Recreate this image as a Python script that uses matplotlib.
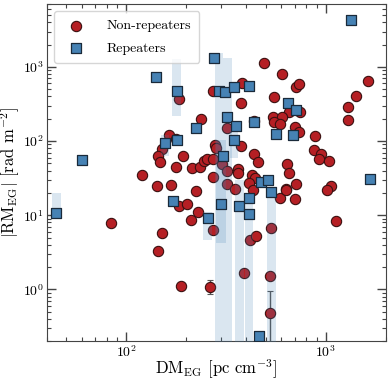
import numpy as np
import matplotlib.pyplot as plt

plt.rcParams['font.family'] = 'serif'
plt.rcParams['font.serif'] = ['cmr10', 'DejaVu Serif']
plt.rcParams['mathtext.fontset'] = 'cm'
plt.rcParams['axes.formatter.use_mathtext'] = True
plt.rcParams['axes.unicode_minus'] = False

# non-repeaters: DM_EG, |RM_EG|
nr_dm = [185, 163, 151, 144, 148, 178, 192, 215, 234, 236, 120, 143, 168, 225,
         84, 144, 151, 184, 201, 212, 228, 189,
         491, 604, 1622, 1423, 1294, 1297, 706, 734, 382, 273, 375, 548, 654, 744,
         321, 437, 546, 606, 553, 590, 699, 738, 888, 877, 953, 927, 1040,
         378, 280, 283, 439, 458, 643, 654, 706, 301, 319, 362, 362, 272, 246, 253,
         272, 426, 443, 414, 322, 631, 1063, 1020,
         352, 434, 587, 636, 703, 273, 418, 450, 535, 1128, 388, 527, 178]
nr_rm = [366, 119, 77, 62, 52.6, 44.6, 62, 42.8, 44.6, 201, 34.8, 24.7, 25.8, 21,
         7.85, 3.27, 5.8, 13.5, 14.3, 8.6, 11, 1.1,
         1143, 795, 640, 411, 292, 194, 532, 583, 601, 469, 324, 387, 245, 243,
         152, 185, 210, 212, 182, 169, 154, 132, 118, 76, 66, 57, 54,
         84.6, 89, 80, 66, 53, 48.8, 36.6, 26.6, 49.5, 39.4, 41.5, 37.5, 32.7, 53.7, 58,
         58, 34.8, 32, 27, 26, 22.8, 25, 21.6,
         22.3, 22, 17.1, 22, 16.5, 6.4, 4.6, 5.25, 6.7, 8.3, 1.64, 1.5, 108]

# non-repeaters with visible error bars
nr_err_dm = [263, 523]
nr_err_rm = [1.08, 0.474]
nr_err_lo = [0.20, 0.374]
nr_err_hi = [0.24, 0.476]

# repeaters
rp_dm = [44.7, 60, 141, 179, 156, 179, 172, 225, 1338, 276, 292, 312, 347, 413,
         648, 714, 319, 355, 439, 563, 682, 348, 306, 1667, 473, 515, 535,
         257, 300, 369, 414, 413, 461]
rp_rm = [10.8, 56, 733, 469, 93, 104, 15.4, 149, 4290, 1322, 469, 455, 543, 560,
         321, 264, 212, 162, 180, 126, 119, 102, 63.4, 30.4, 28, 29.5, 20.3,
         9.2, 14.3, 13.5, 17.3, 10.3, 0.237]

# repeater ranges (DM low, DM high, RM low, RM high)
band_dm0 = [42.5, 170.4, 148.8, 278.4, 306.5, 331, 281.8, 243, 351, 394, 510.5]
band_dm1 = [47.2, 189.2, 163.3, 306.5, 337.9, 364.8, 315, 268, 389.8, 434, 564.5]
band_rm0 = [9.2, 221, 62, 0.1, 0.1, 58.3, 4.2, 4.6, 0.1, 0.1, 0.1]
band_rm1 = [19.9, 1294, 119, 1524, 1322, 148, 102, 10.9, 29.5, 19.7, 21.6]

fig = plt.figure(figsize=(3.9, 3.83), dpi=100)
ax = fig.add_axes([0.120, 0.109, 0.869, 0.880])

ax.scatter(nr_dm, nr_rm, s=55, c='#b51f24', edgecolors='#3a1010', linewidths=0.8,
           zorder=2, label='Non-repeaters')
ax.errorbar(nr_err_dm, nr_err_rm, yerr=[nr_err_lo, nr_err_hi], fmt='o', ms=7.4,
            mfc='#b51f24', mec='#3a1010', mew=0.8, ecolor='#555555', elinewidth=1,
            capsize=2.5, zorder=2)

for x0, x1, y0, y1 in zip(band_dm0, band_dm1, band_rm0, band_rm1):
    ax.fill_between([x0, x1], y0, y1, color='#4682b4', alpha=0.2, lw=0, zorder=3)

ax.scatter(rp_dm, rp_rm, s=48, marker='s', c='#4682b4', edgecolors='#1a2a3a',
           linewidths=0.9, zorder=4, label='Repeaters')

ax.set_xscale('log')
ax.set_yscale('log')
ax.set_xlim(40, 2000)
ax.set_ylim(0.2, 7000)

ax.set_xlabel(r'$\mathrm{DM_{EG}}$ [pc cm$^{-3}$]', fontsize=12)
ax.set_ylabel(r'$|\mathrm{RM_{EG}}|$ [rad m$^{-2}$]', fontsize=12)
ax.xaxis.set_label_coords(0.5, -0.048)
ax.yaxis.set_label_coords(-0.073, 0.5)

ax.tick_params(which='both', direction='in', top=True, right=True, colors='#444444',
               labelcolor='black', labelsize=10, pad=2)
ax.tick_params(which='major', length=6.5, width=1)
ax.tick_params(which='minor', length=3, width=0.8)
for sp in ax.spines.values():
    sp.set_color('#444444')

ax.legend(loc='upper left', fontsize=10, frameon=True, borderpad=0.6,
          handletextpad=1.2, labelspacing=0.7)

fig.savefig('out.png', dpi=100)
